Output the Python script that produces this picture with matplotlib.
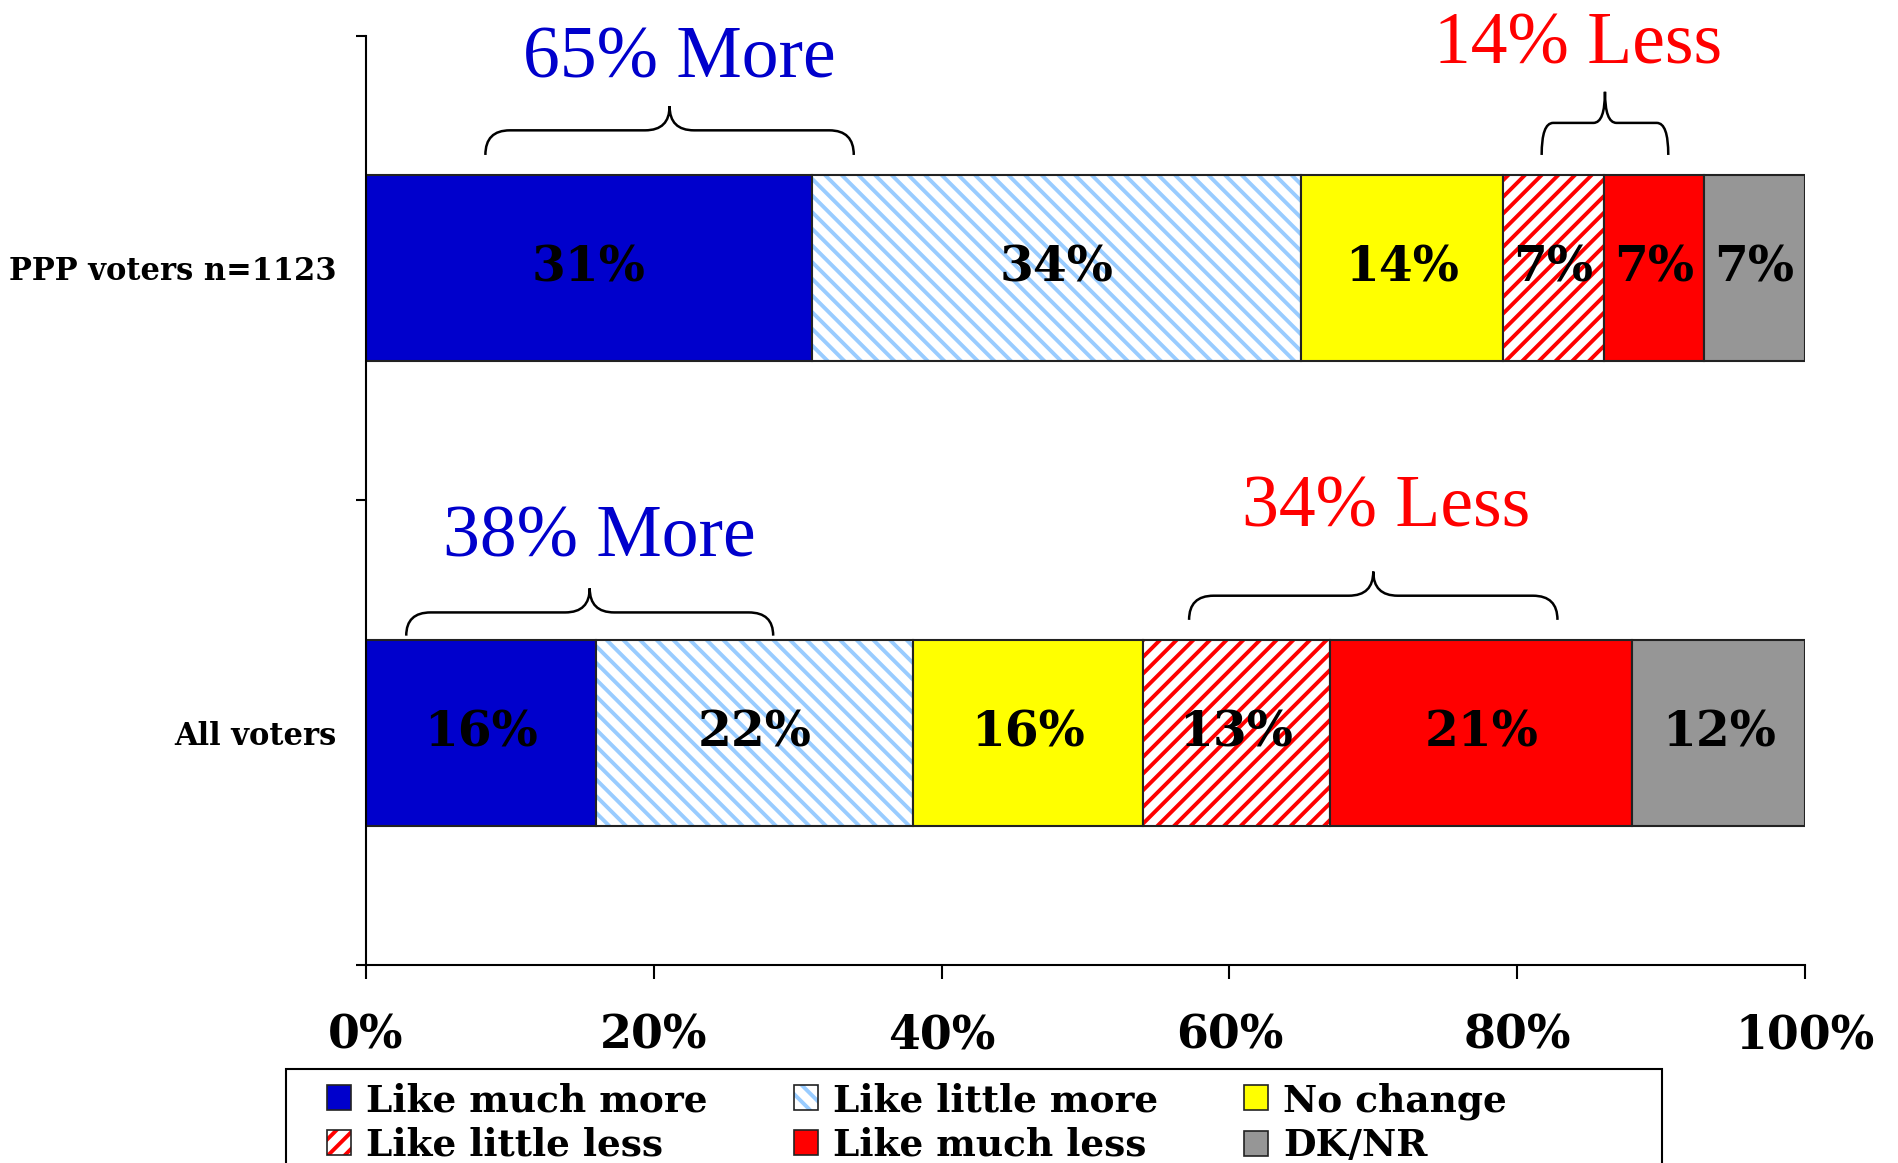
import matplotlib
matplotlib.use('Agg')
import matplotlib.pyplot as plt
from matplotlib.path import Path
from matplotlib.patches import PathPatch, Patch, Rectangle
from matplotlib.legend_handler import HandlerTuple
import numpy as np

# ---------------- data ----------------
categories = ['All voters', 'PPP voters n=1123']
series = ['Like much more', 'Like little more', 'No change',
          'Like little less', 'Like much less', 'DK/NR']
all_voters = [16, 22, 16, 13, 21, 12]
ppp_voters = [31, 34, 14, 7, 7, 7]
x_ticks = [0, 20, 40, 60, 80, 100]
x_tick_labels = ['0%', '20%', '40%', '60%', '80%', '100%']
group_texts = ['65% More', '14% Less', '38% More', '34% Less']

# ---------------- style ----------------
face = ['#0000CC', 'white', '#FFFF00', 'white', '#FF0000', '#969696']
hatches = [None, '\\\\', None, '//', None, None]
hatch_cols = [None, '#99CCFF', None, '#FF0000', None, None]
edge_col = '#222222'
bold_font = 'DejaVu Serif'
times_font = 'Liberation Serif'

plt.rcParams['hatch.linewidth'] = 2.8

W, H = 1898, 1163
fig = plt.figure(figsize=(W / 100, H / 100), dpi=100)
ax = fig.add_axes([0.1928, 0.1703, 0.951 - 0.1928, 0.969 - 0.1703])

rows = [all_voters, ppp_voters]
bar_h = 0.4
for yi, vals in enumerate(rows):
    left = 0
    for si, v in enumerate(vals):
        if hatches[si]:
            ax.barh(yi, v, left=left, height=bar_h, color='white',
                    edgecolor=hatch_cols[si], hatch=hatches[si], linewidth=0)
            ax.barh(yi, v, left=left, height=bar_h, fill=False,
                    edgecolor=edge_col, linewidth=1.5)
        else:
            ax.barh(yi, v, left=left, height=bar_h, color=face[si],
                    edgecolor=edge_col, linewidth=1.5)
        ax.text(left + v / 2, yi, f'{v}%', ha='center', va='center',
                fontsize=35, fontweight='bold', family=bold_font, color='black')
        left += v

ax.set_xlim(0, 100)
ax.set_ylim(-0.5, 1.5)
ax.set_xticks(x_ticks)
ax.set_xticklabels(x_tick_labels)
ax.set_yticks([-0.5, 0.5, 1.5])
ax.set_yticklabels([])
ax.set_yticks([0, 1], minor=True)
ax.set_yticklabels(categories, minor=True)
ax.tick_params(axis='y', which='minor', length=0, pad=21,
               labelsize=22)
ax.tick_params(axis='y', which='major', length=7, width=1.5, direction='out')
ax.tick_params(axis='x', length=10, width=1.5, direction='out', pad=24,
               labelsize=33)
for lab in ax.get_xticklabels() + ax.get_yticklabels(minor=True):
    lab.set_fontweight('bold')
    lab.set_family(bold_font)
for s in ['top', 'right']:
    ax.spines[s].set_visible(False)
for s in ['left', 'bottom']:
    ax.spines[s].set_linewidth(1.5)


def brace(x0, x1, y_end, y_flat, y_peak, rx):
    xm = (x0 + x1) / 2
    verts = [(x0, y_end), (x0, y_flat), (x0 + rx, y_flat),
             (xm - rx, y_flat), (xm, y_flat), (xm, y_peak),
             (xm, y_flat), (xm + rx, y_flat),
             (x1 - rx, y_flat), (x1, y_flat), (x1, y_end)]
    codes = [Path.MOVETO, Path.CURVE3, Path.CURVE3,
             Path.LINETO, Path.CURVE3, Path.CURVE3,
             Path.CURVE3, Path.CURVE3,
             Path.LINETO, Path.CURVE3, Path.CURVE3]
    ax.add_patch(PathPatch(Path(verts, codes), fill=False, lw=1.8,
                           edgecolor='black', clip_on=False))


brace(8.3, 33.9, 1.244, 1.297, 1.349, 1.7)
brace(81.7, 90.5, 1.244, 1.313, 1.380, 0.8)
brace(2.8, 28.3, 0.209, 0.259, 0.311, 1.7)
brace(57.2, 82.8, 0.243, 0.295, 0.347, 1.7)

txt_kw = dict(ha='center', va='center', fontsize=53, family=times_font,
              clip_on=False)
ax.text(21.8, 1.448, group_texts[0], color='#0000CC', **txt_kw)
ax.text(84.2, 1.479, group_texts[1], color='#FF0000', **txt_kw)
ax.text(16.2, 0.418, group_texts[2], color='#0000CC', **txt_kw)
ax.text(70.9, 0.483, group_texts[3], color='#FF0000', **txt_kw)

# legend frame (runs past the bottom edge, as in the reference)
fig.patches.append(Rectangle((286 / W, -0.05), (1662 - 286) / W,
                             (1 - 1069 / H) + 0.05, transform=fig.transFigure,
                             fill=False, edgecolor='black', linewidth=1.5))


def make_handle(si):
    if hatches[si]:
        return (Patch(facecolor='white', edgecolor=hatch_cols[si],
                      hatch=hatches[si], linewidth=0),
                Patch(fill=False, edgecolor=edge_col, linewidth=1.2))
    return Patch(facecolor=face[si], edgecolor=edge_col, linewidth=1.2)


order = [0, 3, 1, 4, 2, 5]
handles = [make_handle(i) for i in order]
labels = [series[i] for i in order]
leg = fig.legend(handles, labels, ncol=3, loc='upper left',
                 bbox_to_anchor=(327 / W, 1 - 1082 / H),
                 frameon=False, borderpad=0, borderaxespad=0,
                 handlelength=0.64, handleheight=0.64, handletextpad=0.4,
                 columnspacing=2.3, labelspacing=0.21,
                 prop={'family': bold_font, 'weight': 'bold', 'size': 27},
                 handler_map={tuple: HandlerTuple(ndivide=1, pad=0)})

fig.savefig('out.png', dpi=100)
